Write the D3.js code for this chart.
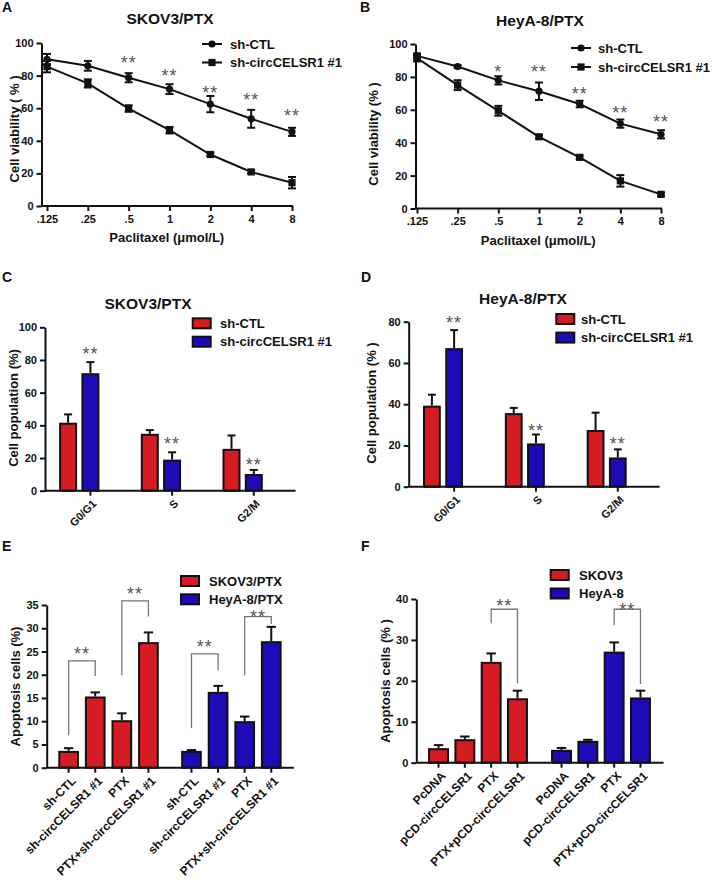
<!DOCTYPE html>
<html><head><meta charset="utf-8">
<script src="https://cdn.jsdelivr.net/npm/d3@7"></script>
<style>
body{margin:0;background:#fff}
svg text{font-family:"Liberation Sans",Arial,Helvetica,sans-serif;font-weight:bold;fill:#111}
</style></head><body>
<svg id="fig" width="716" height="885"></svg>
<script>
// ---------------- DATA ----------------
const doses = [0.125, 0.25, 0.5, 1, 2, 4, 8];
const doseLabels = [".125", ".25", ".5", "1", "2", "4", "8"];
const lineSeries = ["sh-CTL", "sh-circCELSR1 #1"];
const viabilityTicks = [0, 20, 40, 60, 80, 100];

const skovCtlMean = [90, 86, 78.7, 71.7, 62.5, 53.5, 45.5];
const skovCtlErr  = [3.3, 3, 2.8, 3, 5, 5.5, 2.5];
const skovShMean  = [85.5, 75.2, 59.8, 46.5, 31.6, 20.9, 14.3];
const skovShErr   = [3.5, 2.5, 2, 2, 1, 1, 3.5];
const skovSig     = ["", "", "**", "**", "**", "**", "**"];
const skovSigY    = [0, 0, 90.6, 82.4, 72.2, 67.5, 57.8];

const heyCtlMean = [92.8, 86.3, 77.9, 71.3, 63.5, 51.6, 45.1];
const heyCtlErr  = [1.5, 0.8, 2.5, 5.3, 2, 2.5, 2.5];
const heyShMean  = [91.4, 75, 59.4, 43.6, 31.1, 16.8, 8.6];
const heyShErr   = [2, 3, 3, 1, 1, 3.5, 1];
const heySig     = ["", "", "*", "**", "**", "**", "**"];
const heySigY    = [0, 0, 85.6, 85.6, 72, 60.5, 54.9];

const phases = ["G0/G1", "S", "G2/M"];
const barSeries = ["sh-CTL", "sh-circCELSR1 #1"];
const skovCycleCtl = [41, 34.2, 25];
const skovCycleCtlErr = [5.7, 2.9, 8.8];
const skovCycleSh = [71.3, 18.4, 9.6];
const skovCycleShErr = [7.4, 5.1, 3.1];
const skovCycleSigY = [86.5, 31, 18.2];
const heyCycleCtl = [38.8, 35.2, 27];
const heyCycleCtlErr = [5.8, 3, 8.9];
const heyCycleSh = [66.7, 20.5, 13.7];
const heyCycleShErr = [9.2, 4.8, 4.4];
const heyCycleSigY = [81.2, 29.1, 22.6];

const cellLinesE = ["SKOV3/PTX", "HeyA-8/PTX"];
const condE = ["sh-CTL", "sh-circCELSR1 #1", "PTX", "PTX+sh-circCELSR1 #1"];
const apopE_skov = [3.4, 15.1, 10.0, 26.8];
const apopE_skovErr = [0.8, 1.1, 1.7, 2.3];
const apopE_hey = [3.4, 16.1, 9.8, 27.0];
const apopE_heyErr = [0.4, 1.5, 1.2, 3.3];
// [group, fromCond, toCond, bracketTop, leftLegEnd, rightLegEnd, starLevel]
const bracketsE = [[0,0,1,23,7,19.7,25.3],[0,2,3,35.9,19.9,32.5,38.3],[1,0,1,24.5,8.5,20.9,26.8],[1,2,3,32.5,19.9,30.9,33.4]];

const cellLinesF = ["SKOV3", "HeyA-8"];
const condF = ["PcDNA", "pCD-circCELSR1", "PTX", "PTX+pCD-circCELSR1"];
const apopF_skov = [3.3, 5.5, 24.4, 15.5];
const apopF_skovErr = [1.0, 0.9, 2.3, 2.1];
const apopF_hey = [2.9, 5.1, 26.9, 15.7];
const apopF_heyErr = [0.7, 0.5, 2.5, 1.9];
const bracketsF = [[0,2,3,37.5,34.1,19.4,39.3],[1,2,3,37.5,33.6,19.2,38.4]];

// ---------------- DRAWING ----------------
const svg = d3.select("#fig");
const INK = "#111", RED = "#d41c22", BLUE = "#1d0bb5", AST = "#555", BR = "#777";

function txt(x, y, s, size, opts = {}) {
  const t = svg.append("text").attr("x", x).attr("y", y).attr("font-size", size).text(s);
  if (opts.anchor) t.attr("text-anchor", opts.anchor);
  if (opts.dy) t.attr("dy", opts.dy);
  return t;
}
function yLabel(s, cx, cy, size) {
  svg.append("text").attr("transform", `translate(${cx},${cy}) rotate(-90)`)
    .attr("text-anchor", "middle").attr("dy", "0.35em").attr("font-size", size).text(s);
}
function stars(s, x, y) {
  svg.append("text").attr("x", x).attr("y", y).attr("dy", "0.57em")
    .attr("text-anchor", "middle").attr("font-size", 18).attr("letter-spacing", 1)
    .style("font-weight", "normal").style("fill", AST).text(s);
}
function drawYAxis(y, x, ticks) {
  const g = svg.append("g").attr("transform", `translate(${x},0)`)
    .call(d3.axisLeft(y).tickValues(ticks).tickSize(5).tickSizeOuter(0).tickPadding(3));
  g.attr("font-size", 11);
  g.select(".domain").attr("stroke", INK).attr("stroke-width", 2);
  g.selectAll(".tick line").attr("stroke", INK).attr("stroke-width", 2);
  return g;
}
function hline(x1, x2, y, w = 2, c = INK) {
  svg.append("line").attr("x1", x1).attr("x2", x2).attr("y1", y).attr("y2", y)
    .attr("stroke", c).attr("stroke-width", w);
}
function vline(x, y1, y2, w = 2, c = INK) {
  svg.append("line").attr("x1", x).attr("x2", x).attr("y1", y1).attr("y2", y2)
    .attr("stroke", c).attr("stroke-width", w);
}

function linePanel(o) {
  const x = d3.scaleLog().base(2).domain([doses[0], doses[doses.length - 1]]).range(o.xr);
  const y = d3.scaleLinear().domain([0, 100]).range(o.yr);
  drawYAxis(y, o.ax, viabilityTicks);
  hline(o.ax, o.xr[1] + 1, o.yr[0]);
  const gx = svg.append("g").attr("transform", `translate(0,${o.yr[0]})`)
    .call(d3.axisBottom(x).tickValues(doses).tickFormat((d, i) => doseLabels[i]).tickSize(5).tickPadding(4));
  gx.attr("font-size", 11);
  gx.select(".domain").remove();
  gx.selectAll(".tick line").attr("stroke", INK).attr("stroke-width", 2);

  o.series.forEach((s, si) => {
    const line = d3.line().x((d, i) => x(doses[i])).y(d => y(d));
    svg.append("path").attr("d", line(s.mean)).attr("fill", "none").attr("stroke", INK).attr("stroke-width", 2);
    s.mean.forEach((m, i) => {
      const cx = x(doses[i]), e = s.err[i];
      vline(cx, y(m - e), y(m + e));
      hline(cx - 4, cx + 4, y(m - e));
      hline(cx - 4, cx + 4, y(m + e));
      if (si === 0) svg.append("circle").attr("cx", cx).attr("cy", y(m)).attr("r", 3.6).attr("fill", INK);
      else svg.append("rect").attr("x", cx - 3.6).attr("y", y(m) - 3.6).attr("width", 7.2).attr("height", 7.2).attr("fill", INK);
    });
  });
  o.sig.forEach((s, i) => { if (s) stars(s, x(doses[i]), y(o.sigY[i])); });

  // legend
  lineSeries.forEach((name, i) => {
    const ly = o.leg[1] + i * o.leg[3];
    hline(o.leg[0], o.leg[0] + 20, ly);
    if (i === 0) svg.append("circle").attr("cx", o.leg[0] + 10).attr("cy", ly).attr("r", 3.6).attr("fill", INK);
    else svg.append("rect").attr("x", o.leg[0] + 6.4).attr("y", ly - 3.6).attr("width", 7.2).attr("height", 7.2).attr("fill", INK);
    txt(o.leg[2], ly, name, 13, { dy: "0.36em" });
  });
  txt(o.title[0], o.title[1], o.title[2], 15.5, { anchor: "middle" });
  yLabel(o.ylab[2], o.ylab[0], o.ylab[1], 13);
  txt((o.ax + o.xr[1]) / 2, o.yr[0] + 36, "Paclitaxel (μmol/L)", 13, { anchor: "middle" });
}

function bar(xl, w, m, e, y, color) {
  svg.append("rect").attr("x", xl).attr("y", y(m)).attr("width", w).attr("height", y(0) - y(m))
    .attr("fill", color).attr("stroke", INK).attr("stroke-width", 2);
  const mid = xl + w / 2;
  vline(mid, y(m) - 1, y(m + e));
  hline(mid - w * 0.25, mid + w * 0.25, y(m + e));
}
function barLegend(names, colors, bx, by, gap, tx) {
  names.forEach((n, i) => {
    svg.append("rect").attr("x", bx).attr("y", by + i * gap).attr("width", 18).attr("height", 10)
      .attr("fill", colors[i]).attr("stroke", INK).attr("stroke-width", 2);
    txt(tx, by + i * gap + 5, n, 13, { dy: "0.36em" });
  });
}

function cyclePanel(o) {
  const y = d3.scaleLinear().domain([0, o.ymax]).range(o.yr);
  const x0 = d3.scaleBand().domain(phases).range(o.xr);
  const x1 = d3.scaleBand().domain(barSeries).range([-o.iw / 2, o.iw / 2]).paddingInner(o.pi);
  const gc = p => x0(p) + x0.bandwidth() / 2;
  o.data.forEach((s, si) => {
    s.mean.forEach((m, i) => bar(gc(phases[i]) + x1(barSeries[si]), x1.bandwidth(), m, s.err[i], y, s.color));
  });
  drawYAxis(y, o.ax, d3.range(0, o.ymax + 1, 20));
  hline(o.ax, o.xr[1] + 12, o.yr[0]);
  phases.forEach((p, i) => {
    const tx = gc(p) + x1(barSeries[1]) + x1.bandwidth() / 2;
    vline(tx, o.yr[0], o.yr[0] + 5);
    svg.append("text").attr("transform", `translate(${tx + 4},${o.yr[0] + 11}) rotate(-45)`)
      .attr("text-anchor", "end").attr("dy", "0.35em").attr("font-size", 11).text(p);
    stars("**", tx, y(o.sigY[i]));
  });
  barLegend(barSeries, [RED, BLUE], o.leg[0], o.leg[1], o.leg[2], o.leg[3]);
  txt(o.title[0], o.title[1], o.title[2], 15.5, { anchor: "middle" });
  yLabel(o.ylab[2], o.ylab[0], o.ylab[1], 13);
}

function apopPanel(o) {
  const y = d3.scaleLinear().domain([0, o.ymax]).range(o.yr);
  const x0 = d3.scaleBand().domain(o.groups).range(o.xr);
  const x1 = d3.scaleBand().domain(o.conds).range([-o.iw / 2, o.iw / 2]).paddingInner(o.pi);
  const bc = (g, c) => x0(o.groups[g]) + x0.bandwidth() / 2 + x1(o.conds[c]) + x1.bandwidth() / 2;
  const colors = [RED, BLUE];
  o.data.forEach((s, g) => {
    s.mean.forEach((m, c) => bar(bc(g, c) - x1.bandwidth() / 2, x1.bandwidth(), m, s.err[c], y, colors[g]));
  });
  drawYAxis(y, o.ax, d3.range(0, o.ymax + 0.1, o.tstep));
  hline(o.ax, o.xr[1] + 1, o.yr[0]);
  o.groups.forEach((gname, g) => {
    o.conds.forEach((c, ci) => {
      const tx = bc(g, ci);
      vline(tx, o.yr[0], o.yr[0] + 5);
      svg.append("text").attr("transform", `translate(${tx + 5},${o.yr[0] + 11}) rotate(-45)`)
        .attr("text-anchor", "end").attr("dy", "0.35em").attr("font-size", 12).text(c);
    });
  });
  o.brackets.forEach(b => {
    const xl = bc(b[0], b[1]), xr = bc(b[0], b[2]);
    svg.append("path").attr("d", `M${xl},${y(b[4])}V${y(b[3])}H${xr}V${y(b[5])}`)
      .attr("fill", "none").attr("stroke", BR).attr("stroke-width", 1.3);
    stars("**", (xl + xr) / 2, y(b[6]));
  });
  barLegend(o.groups, colors, o.leg[0], o.leg[1], o.leg[2], o.leg[3]);
  yLabel(o.ylab[2], o.ylab[0], o.ylab[1], 13);
}

// panel letters
[["A", 2, 12], ["B", 360, 12], ["C", 2, 282], ["D", 361, 282], ["E", 2, 551], ["F", 361, 551]]
  .forEach(d => txt(d[1], d[2], d[0], 14));

linePanel({
  xr: [47, 292], yr: [206, 43], ax: 41.5,
  series: [{ mean: skovCtlMean, err: skovCtlErr }, { mean: skovShMean, err: skovShErr }],
  sig: skovSig, sigY: skovSigY,
  leg: [202, 44, 230, 18.5],
  title: [170, 23.5, "SKOV3/PTX"],
  ylab: [14, 129, "Cell viability ( % )"]
});
linePanel({
  xr: [417, 661], yr: [208.5, 44], ax: 415.5,
  series: [{ mean: heyCtlMean, err: heyCtlErr }, { mean: heyShMean, err: heyShErr }],
  sig: heySig, sigY: heySigY,
  leg: [571, 48, 598, 19],
  title: [540, 26, "HeyA-8/PTX"],
  ylab: [373, 134, "Cell viability (%  )"]
});

cyclePanel({
  ymax: 100, yr: [490.7, 327.3], ax: 45, xr: [38.4, 283.5], iw: 38.3, pi: 0.283,
  data: [{ mean: skovCycleCtl, err: skovCycleCtlErr, color: RED }, { mean: skovCycleSh, err: skovCycleShErr, color: BLUE }],
  sigY: skovCycleSigY,
  leg: [192.7, 318.3, 18.4, 220],
  title: [148, 308.5, "SKOV3/PTX"],
  ylab: [13, 408, "Cell population (%)"]
});
cyclePanel({
  ymax: 80, yr: [486.7, 321.7], ax: 408.7, xr: [402.1, 647.6], iw: 38, pi: 0.29,
  data: [{ mean: heyCycleCtl, err: heyCycleCtlErr, color: RED }, { mean: heyCycleSh, err: heyCycleShErr, color: BLUE }],
  sigY: heyCycleSigY,
  leg: [556.3, 314, 18.6, 581],
  title: [523, 303.5, "HeyA-8/PTX"],
  ylab: [371, 403, "Cell population (% )"]
});

apopPanel({
  ymax: 35, tstep: 5, yr: [767.7, 605], ax: 46.7, xr: [47.1, 292.8], iw: 98.5, pi: 0.297,
  groups: cellLinesE, conds: condE,
  data: [{ mean: apopE_skov, err: apopE_skovErr }, { mean: apopE_hey, err: apopE_heyErr }],
  brackets: bracketsE,
  leg: [181, 576, 18.3, 209],
  ylab: [15, 686.5, "Apoptosis cells (%)"]
});
apopPanel({
  ymax: 40, tstep: 10, yr: [762.7, 599], ax: 416.3, xr: [416.5, 662.5], iw: 97.9, pi: 0.28,
  groups: cellLinesF, conds: condF,
  data: [{ mean: apopF_skov, err: apopF_skovErr }, { mean: apopF_hey, err: apopF_heyErr }],
  brackets: bracketsF,
  leg: [550.7, 570, 18.5, 579],
  ylab: [385, 681, "Apoptosis cells (% )"]
});
</script>
</body></html>
